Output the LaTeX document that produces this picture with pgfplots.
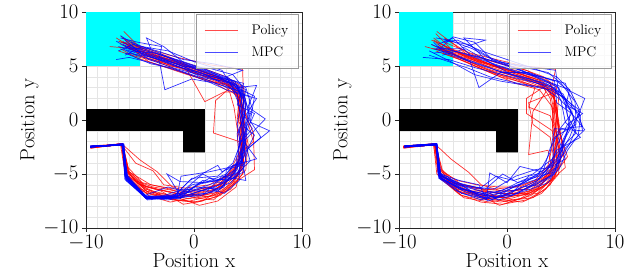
\documentclass[border=0pt]{standalone}
\usepackage{pgfplots}
\pgfplotsset{compat=1.18}
\definecolor{aqua}{RGB}{0,255,255}
\definecolor{pred}{RGB}{255,0,0}
\definecolor{pblue}{RGB}{0,0,255}
\pgfplotsset{
  myaxis/.style={
    scale only axis, width=216pt, height=216pt,
    xmin=-10, xmax=10, ymin=-10, ymax=10,
    xtick={-10,0,10}, ytick={-10,-5,0,5,10},
    minor xtick={-9,-8,-7,-6,-5,-4,-3,-2,-1,1,2,3,4,5,6,7,8,9},
    minor ytick={-9,-8,-7,-6,-4,-3,-2,-1,1,2,3,4,6,7,8,9},
    grid=both,
    major grid style={gray!30, line width=0.6pt},
    minor grid style={gray!20, line width=0.5pt},
    minor tick length=0pt, major tick length=4pt,
    tick align=outside, tick pos=left,
    axis line style={black!85, line width=0.8pt},
    tick style={black!85, line width=0.8pt},
    tick label style={font=\fontsize{19.5}{21}\selectfont},
    label style={font=\fontsize{20.5}{24}\selectfont},
    xlabel={Position x}, ylabel={Position y},
    xlabel style={yshift=4pt},
    ylabel style={yshift=-2pt},
    legend style={at={(0.985,0.99)}, anchor=north east,
      fill=white, fill opacity=0.8, text opacity=1, draw opacity=1,
      draw=gray!80, line width=0.9pt, font=\fontsize{14}{16}\selectfont,
      inner xsep=8pt, inner ysep=8pt, row sep=7pt, cells={anchor=west}},
    legend image code/.code={\path[draw=none,fill=none] (0pt,-1pt) rectangle (45pt,1pt); \draw[##1] (0pt,0pt) -- (33pt,0pt);},
  },
  pol/.style={pred, line width=0.7pt, opacity=0.8, forget plot},
  mpc/.style={pblue, line width=0.7pt, opacity=0.8, forget plot},
}
\begin{document}
\begin{tikzpicture}
\path[use as bounding box] (0,0) rectangle (639pt,277pt);
% ---------------- left ----------------
\begin{axis}[myaxis, at={(86pt,49pt)}, anchor=south west]
\addplot[fill=aqua, draw=none, forget plot] coordinates {(-10,5) (-5,5) (-5,10) (-10,10)} -- cycle;
\addplot[fill=black, draw=none, forget plot] coordinates {(-10,1) (1,1) (1,-3) (-1,-3) (-1,-1) (-10,-1)} -- cycle;
\addlegendimage{pred, line width=0.7pt, opacity=0.7}\addlegendentry{Policy}
\addlegendimage{pblue, line width=0.7pt, opacity=0.7}\addlegendentry{MPC}
\addplot[pol] coordinates {(-9.6,-2.5) (-6.7,-2.3) (-6.2,-4.8) (-4.5,-6.4) (-2.5,-6.9) (-0.5,-7.3) (1.5,-6.8) (3.2,-5.5) (4.3,-3.5) (4.6,-1.0) (4.4,1.5) (3.6,3.2) (1.8,4.2) (-0.5,5.0) (-2.8,5.8) (-4.8,6.5) (-6.6,7.6)};
\addplot[pol] coordinates {(-9.6,-2.6) (-6.6,-2.2) (-6.4,-4.6) (-5.0,-6.0) (-3.0,-6.6) (-1.0,-7.8) (0.8,-7.5) (2.6,-6.3) (4.0,-4.5) (4.5,-2.0) (4.2,0.8) (3.9,2.8) (2.5,3.9) (0.3,4.6) (-2.0,5.5) (-4.5,6.2) (-6.8,7.0)};
\addplot[pol] coordinates {(-9.5,-2.5) (-6.7,-2.2) (-5.0,-3.7) (-3.4,-4.8) (-2.0,-6.2) (0.0,-6.8) (2.0,-6.4) (3.6,-5.1) (4.4,-3.0) (5.5,-2.0) (4.8,0.4) (4.0,2.4) (2.2,4.0) (0.0,4.8) (-2.4,5.9) (-5.0,6.7) (-7.0,7.3)};
\addplot[pol] coordinates {(-9.6,-2.4) (-6.6,-2.3) (-6.0,-5.2) (-4.0,-6.9) (-1.8,-7.4) (0.3,-7.6) (2.4,-7.0) (4.2,-5.5) (5.6,-4.6) (5.5,-1.2) (4.6,1.0) (4.4,3.0) (3.0,3.6) (0.8,4.3) (-1.5,5.2) (-4.0,6.1) (-6.2,6.8)};
\addplot[pol] coordinates {(-9.6,-2.5) (-6.8,-2.3) (-6.5,-4.2) (-5.5,-5.6) (-3.8,-6.2) (-1.5,-6.6) (0.6,-6.6) (2.4,-5.9) (3.8,-4.4) (4.4,-2.5) (4.3,-0.2) (4.6,2.0) (3.2,3.5) (1.0,4.4) (-1.2,5.3) (-3.6,6.0) (-6.0,7.4)};
\addplot[pol] coordinates {(-9.5,-2.6) (-6.7,-2.2) (-6.3,-5.0) (-4.2,-7.0) (-2.2,-7.6) (-0.2,-7.2) (1.8,-7.4) (3.4,-6.0) (4.7,-4.2) (4.9,-1.8) (4.0,0.2) (4.3,2.6) (2.8,2.6) (1.0,1.7) (-0.8,4.9) (-3.0,5.6) (-5.5,6.6) (-7.8,6.8)};
\addplot[pol] coordinates {(-9.6,-2.5) (-6.6,-2.3) (-6.1,-4.4) (-4.8,-5.8) (-2.6,-6.3) (-0.6,-6.9) (1.2,-7.1) (3.0,-6.6) (4.5,-5.0) (4.2,-2.0) (1.8,-1.2) (2.0,1.8) (3.8,3.4) (1.2,4.0) (-1.0,4.8) (-3.4,5.4) (-5.8,6.2)};
\addplot[pol] coordinates {(-9.5,-2.5) (-6.7,-2.2) (-6.0,-5.0) (-4.4,-6.6) (-2.0,-7.0) (0.5,-7.9) (2.2,-7.5) (3.9,-6.2) (4.4,-4.0) (4.3,-1.4) (4.7,0.8) (4.2,2.0) (2.8,3.7) (0.4,4.5) (-2.2,5.0) (-4.3,6.0) (-6.5,8.2)};
\addplot[pol] coordinates {(-9.6,-2.5) (-6.6,-2.3) (-6.4,-4.9) (-5.2,-6.3) (-3.2,-7.0) (-1.2,-7.2) (1.0,-6.4) (2.8,-5.8) (4.2,-4.8) (4.5,-3.0) (4.0,-0.8) (3.7,1.2) (3.3,2.6) (1.6,3.6) (-0.6,4.2) (-3.0,5.0) (-5.4,5.8) (-6.8,6.6)};
\addplot[pol] coordinates {(-9.6,-2.6) (-6.7,-2.3) (-5.4,-4.0) (-3.8,-4.7) (-2.8,-6.0) (-0.8,-6.3) (1.4,-6.0) (3.2,-5.0) (4.0,-3.4) (4.8,-2.0) (4.2,0.5) (4.0,2.2) (2.6,3.3) (0.6,3.9) (-1.6,4.6) (-4.2,5.4) (-6.2,7.0)};
\addplot[pol] coordinates {(-9.6,-2.5) (-6.7,-2.3) (-6.2,-4.6) (-4.6,-6.2) (-2.4,-7.3) (-0.4,-7.5) (1.8,-7.0) (3.6,-5.8) (4.6,-3.8) (4.2,-1.0) (4.6,1.6) (4.5,4.7) (1.5,5.1) (-1.5,5.8) (-4.0,6.5) (-6.4,7.2)};
\addplot[pol] coordinates {(-9.6,-2.5) (-6.6,-2.2) (-6.2,-4.9) (-4.6,-6.1) (-2.6,-6.6) (-0.8,-7.0) (1.0,-6.9) (2.8,-6.0) (4.1,-4.2) (4.5,-1.6) (4.4,1.0) (4.1,2.8) (2.8,3.4) (0.6,4.2) (-1.8,5.1) (-4.2,5.9) (-6.4,6.8)};
\addplot[pol] coordinates {(-9.6,-2.5) (-6.7,-2.3) (-6.3,-5.1) (-4.8,-6.6) (-2.8,-7.2) (-0.6,-7.0) (1.4,-6.6) (3.2,-5.8) (4.4,-4.6) (4.8,-2.4) (4.5,0.2) (4.3,2.2) (3.0,3.2) (0.9,4.0) (-1.4,4.9) (-3.8,5.7) (-6.0,6.6)};
\addplot[pol] coordinates {(-9.5,-2.4) (-6.7,-2.2) (-6.1,-4.7) (-4.4,-6.2) (-2.2,-6.7) (0.2,-7.2) (2.0,-7.0) (3.6,-6.0) (4.6,-4.0) (4.4,-1.8) (4.2,0.8) (4.4,2.4) (3.4,3.6) (1.4,4.3) (-0.8,5.0) (-3.2,5.8) (-5.6,6.6) (-7.2,7.6)};
\addplot[pol] coordinates {(-9.6,-2.6) (-6.6,-2.2) (-6.3,-4.6) (-5.2,-5.9) (-3.4,-6.4) (-1.4,-6.8) (0.8,-7.0) (2.6,-6.6) (4.0,-5.2) (4.7,-3.2) (4.6,-0.6) (4.4,1.6) (3.6,3.0) (1.8,3.9) (-0.4,4.7) (-2.6,5.6) (-5.0,6.2) (-6.8,7.8)};
\addplot[pol] coordinates {(-9.6,-2.5) (-6.7,-2.3) (-6.4,-5.0) (-4.2,-6.5) (-2.0,-7.4) (0.0,-7.6) (1.8,-7.2) (3.4,-6.4) (4.8,-4.6) (5.0,-2.2) (4.6,0.0) (4.2,1.8) (3.2,3.3) (1.2,3.6) (-1.0,4.4) (-3.4,5.4) (-5.8,6.0) (-7.0,6.4)};
\addplot[pol] coordinates {(-9.6,-2.5) (-6.6,-2.3) (-6.0,-4.8) (-4.0,-6.0) (-1.8,-6.4) (0.4,-6.4) (2.2,-6.0) (3.6,-4.8) (4.4,-3.2) (4.6,-1.2) (4.8,1.2) (4.6,3.0) (3.0,4.0) (0.8,4.8) (-1.8,5.6) (-4.4,6.4) (-6.8,7.2)};
\addplot[pol] coordinates {(-9.5,-2.5) (-6.7,-2.2) (-6.2,-5.3) (-4.4,-6.8) (-2.4,-7.0) (-0.4,-6.6) (1.6,-6.2) (3.0,-5.2) (4.2,-3.8) (4.0,-1.4) (4.2,1.2) (4.0,3.2) (2.0,3.8) (-0.2,4.4) (-2.6,5.2) (-5.0,6.0) (-6.6,7.3)};
\addplot[mpc] coordinates {(-9.6,-2.5) (-6.6,-2.3) (-6.4,-5.2) (-4.4,-7.3) (-1.4,-7.2) (0.5,-6.6) (2.4,-6.0) (4.0,-5.2) (4.6,-3.0) (4.5,-0.8) (4.8,1.5) (4.2,3.0) (2.4,3.8) (0.2,4.5) (-2.2,5.4) (-4.6,6.2) (-6.6,7.0)};
\addplot[mpc] coordinates {(-9.6,-2.4) (-6.5,-2.3) (-6.2,-5.5) (-4.3,-7.4) (-1.2,-7.1) (-2.5,-5.0) (-1.3,-5.7) (1.0,-5.8) (3.0,-5.0) (4.3,-3.6) (4.8,-1.2) (5.0,0.8) (4.6,2.6) (3.4,3.4) (1.0,4.0) (-1.5,5.2) (-4.0,5.8) (-6.3,6.5)};
\addplot[mpc] coordinates {(-9.6,-2.5) (-6.6,-2.2) (-6.3,-5.6) (-4.4,-7.2) (-1.3,-7.3) (0.2,-6.0) (2.6,-5.5) (3.6,-4.2) (5.8,-3.6) (4.6,-2.0) (6.6,0.1) (5.0,1.2) (5.8,3.2) (4.0,3.0) (2.0,4.2) (-0.4,5.0) (-3.0,6.0) (-5.2,6.8) (-6.8,7.8)};
\addplot[mpc] coordinates {(-9.6,-2.5) (-6.6,-2.3) (-6.1,-5.4) (-4.4,-7.1) (-2.8,-7.0) (-1.0,-6.4) (1.6,-6.6) (3.4,-5.8) (4.6,-4.4) (5.0,-2.6) (7.0,-1.0) (5.2,-0.2) (5.6,2.2) (4.4,2.8) (3.2,3.9) (0.8,4.8) (-1.6,5.6) (-4.0,6.3) (-6.0,6.8)};
\addplot[mpc] coordinates {(-9.6,-2.5) (-6.7,-2.3) (-6.2,-5.3) (-4.5,-7.0) (-2.0,-7.2) (-0.2,-5.4) (2.2,-5.2) (3.6,-4.0) (4.3,-2.2) (4.0,-0.4) (4.4,2.0) (3.8,3.6) (1.6,4.4) (-0.8,5.2) (-2.8,6.8) (-4.4,7.6) (-4.0,6.6) (-6.0,6.6) (-7.2,7.3)};
\addplot[mpc] coordinates {(-9.6,-2.5) (-6.6,-2.3) (-6.3,-5.0) (-4.4,-7.2) (-1.6,-7.0) (1.2,-6.2) (2.8,-6.8) (4.2,-5.6) (4.2,-3.4) (4.0,-1.2) (4.7,0.4) (4.5,2.6) (2.0,3.4) (-0.2,3.8) (-2.7,2.8) (-3.2,5.4) (-5.4,6.0) (-6.6,6.6)};
\addplot[mpc] coordinates {(-9.6,-2.5) (-6.6,-2.2) (-6.3,-5.4) (-4.2,-7.3) (-1.3,-6.8) (0.8,-5.0) (2.0,-5.6) (4.2,-4.8) (5.2,-3.8) (4.6,-1.6) (5.6,0.6) (4.0,1.4) (4.6,3.4) (2.8,3.8) (0.4,4.2) (-1.8,4.8) (-4.2,5.6) (-6.4,7.4)};
\addplot[mpc] coordinates {(-9.6,-2.4) (-6.6,-2.3) (-6.4,-5.2) (-4.6,-7.0) (-2.4,-6.2) (-0.2,-6.8) (2.0,-6.2) (3.8,-5.0) (4.0,-3.0) (4.8,-0.8) (4.2,1.0) (4.0,2.4) (3.0,4.0) (4.5,4.6) (1.8,5.2) (-1.0,5.6) (-3.4,6.4) (-5.6,7.0) (-7.0,6.4)};
\addplot[mpc] coordinates {(-9.6,-2.5) (-6.5,-2.3) (-6.2,-5.4) (-4.4,-7.3) (-1.5,-7.2) (0.6,-7.0) (2.8,-6.2) (3.0,-4.6) (4.4,-4.2) (4.6,-2.4) (4.5,0.0) (5.8,2.0) (4.2,2.4) (3.0,2.8) (1.2,3.6) (-1.0,4.4) (-3.6,5.2) (-6.0,5.8) (-7.2,5.6)};
\addplot[mpc] coordinates {(-9.6,-2.5) (-6.6,-2.3) (-6.3,-5.5) (-4.4,-7.2) (-2.2,-7.3) (-0.6,-6.6) (1.4,-5.4) (3.2,-5.6) (4.6,-4.8) (4.4,-2.8) (4.2,-1.0) (4.8,1.0) (4.4,3.2) (3.6,4.2) (1.4,4.8) (-1.2,5.0) (-3.2,5.8) (-3.0,6.8) (-5.2,7.2) (-6.8,7.6)};
\addplot[mpc] coordinates {(-9.6,-2.5) (-6.6,-2.2) (-6.3,-5.0) (-4.4,-7.1) (-1.8,-7.0) (-0.4,-5.6) (2.2,-4.2) (2.6,-4.8) (4.4,-3.8) (5.6,-1.4) (4.6,-0.6) (4.2,1.4) (3.6,2.8) (1.0,3.8) (-1.0,4.8) (-3.8,5.8) (-6.2,6.2)};
\addplot[mpc] coordinates {(-9.6,-2.5) (-6.6,-2.3) (-6.2,-5.2) (-4.4,-7.3) (-1.2,-7.0) (1.0,-6.8) (2.6,-5.2) (4.8,-5.6) (4.4,-3.2) (6.2,-1.6) (5.0,0.2) (5.2,2.2) (3.8,2.6) (2.6,4.6) (0.0,5.4) (-2.4,6.4) (-4.8,6.8) (-6.4,6.0)};
\addplot[mpc] coordinates {(-9.6,-2.5) (-6.6,-2.3) (-6.3,-5.4) (-4.4,-7.2) (-1.6,-7.1) (0.2,-6.4) (2.0,-5.8) (3.8,-4.6) (4.5,-2.6) (4.4,-0.4) (4.6,1.8) (4.0,3.2) (2.2,4.0) (0.0,4.8) (-2.4,5.6) (-4.8,6.4) (-6.6,7.2)};
\addplot[mpc] coordinates {(-9.6,-2.5) (-6.5,-2.2) (-6.2,-5.3) (-4.3,-7.2) (-1.4,-7.0) (-0.2,-6.0) (1.8,-5.6) (3.6,-5.4) (4.8,-3.8) (4.6,-1.6) (5.2,0.4) (4.6,2.4) (3.0,3.2) (0.6,4.4) (-1.8,5.0) (-4.4,6.0) (-6.4,6.8)};
\addplot[mpc] coordinates {(-9.6,-2.4) (-6.6,-2.3) (-6.4,-5.5) (-4.4,-7.3) (-2.0,-7.1) (0.0,-6.2) (2.4,-6.4) (4.0,-4.6) (4.2,-2.2) (5.4,-0.8) (4.4,0.8) (4.8,2.8) (3.4,3.6) (1.2,4.6) (-1.2,5.4) (-3.6,6.2) (-6.0,6.4)};
\addplot[mpc] coordinates {(-9.6,-2.5) (-6.6,-2.2) (-6.2,-5.4) (-4.4,-7.1) (-1.3,-7.2) (0.8,-5.6) (2.6,-5.8) (4.2,-4.2) (4.8,-2.0) (4.3,0.0) (4.4,2.2) (3.6,3.4) (1.8,4.0) (-0.6,4.6) (-3.0,5.6) (-5.4,6.4) (-7.0,6.8)};
\addplot[mpc] coordinates {(-9.6,-2.5) (-6.5,-2.3) (-6.3,-5.2) (-4.5,-7.2) (-2.4,-7.4) (-0.2,-7.0) (2.2,-6.6) (3.6,-5.0) (4.6,-3.4) (4.9,-1.0) (4.5,1.2) (4.2,2.8) (2.6,3.6) (0.4,4.0) (-2.0,4.8) (-4.0,5.2) (-6.4,6.2)};
\addplot[mpc] coordinates {(-9.6,-2.4) (-6.6,-2.3) (-6.3,-5.5) (-4.4,-7.3) (-1.6,-7.2) (-1.2,-5.2) (1.4,-4.8) (3.2,-4.4) (4.4,-4.0) (4.2,-1.8) (5.4,1.0) (4.8,3.0) (3.8,3.6) (1.6,4.2) (-0.8,5.0) (-3.2,6.2) (-5.8,7.2)};
\end{axis}
% ---------------- right ----------------
\begin{axis}[myaxis, at={(399pt,49pt)}, anchor=south west]
\addplot[fill=aqua, draw=none, forget plot] coordinates {(-10,5) (-5,5) (-5,10) (-10,10)} -- cycle;
\addplot[fill=black, draw=none, forget plot] coordinates {(-10,1) (1,1) (1,-3) (-1,-3) (-1,-1) (-10,-1)} -- cycle;
\addlegendimage{pred, line width=0.7pt, opacity=0.7}\addlegendentry{Policy}
\addlegendimage{pblue, line width=0.7pt, opacity=0.7}\addlegendentry{MPC}
\addplot[pol] coordinates {(-9.6,-2.5) (-6.8,-2.3) (-6.4,-4.8) (-4.8,-6.2) (-2.8,-6.8) (-0.7,-7.9) (1.2,-7.3) (3.0,-6.2) (4.2,-4.4) (4.6,-2.0) (4.4,0.6) (4.0,2.6) (2.6,3.6) (0.4,4.4) (-2.0,5.2) (-4.6,6.0) (-7.6,6.8)};
\addplot[pol] coordinates {(-9.6,-2.6) (-6.7,-2.2) (-5.2,-3.6) (-3.6,-4.8) (-2.4,-6.0) (-0.4,-6.6) (1.6,-6.4) (3.4,-5.4) (4.4,-3.4) (4.2,-1.0) (1.8,0.6) (1.8,2.0) (3.6,3.2) (1.4,4.2) (-1.2,5.0) (-3.6,6.0) (-6.5,8.2)};
\addplot[pol] coordinates {(-9.5,-2.5) (-6.7,-2.3) (-6.2,-5.2) (-4.4,-6.6) (-2.0,-7.2) (0.2,-7.6) (2.2,-7.0) (4.0,-5.6) (5.6,-3.4) (4.8,-1.0) (4.4,1.4) (4.2,3.0) (2.2,3.8) (-0.2,4.6) (-2.6,5.6) (-5.0,6.4) (-6.8,7.4)};
\addplot[pol] coordinates {(-9.6,-2.5) (-6.6,-2.3) (-6.0,-4.6) (-5.0,-5.8) (-3.0,-6.2) (-1.0,-6.8) (1.0,-6.8) (2.8,-6.4) (4.0,-5.0) (4.6,-3.0) (4.8,-0.6) (4.5,1.8) (3.2,3.4) (1.0,4.0) (-1.4,4.6) (-4.0,5.6) (-6.2,6.6)};
\addplot[pol] coordinates {(-9.6,-2.4) (-6.8,-2.2) (-6.5,-5.0) (-4.2,-7.0) (-2.2,-7.4) (-0.2,-7.0) (2.0,-6.0) (3.6,-5.2) (4.4,-4.0) (4.0,-1.6) (2.4,-0.4) (2.0,1.6) (4.0,2.4) (4.5,4.7) (1.6,5.0) (-1.0,5.6) (-3.4,6.2) (-5.8,7.2)};
\addplot[pol] coordinates {(-9.6,-2.5) (-6.7,-2.3) (-6.1,-5.4) (-4.0,-7.2) (-1.6,-7.6) (0.6,-7.2) (2.6,-6.6) (4.4,-5.4) (5.0,-3.2) (4.4,-0.4) (4.0,2.0) (3.4,3.0) (1.8,3.6) (-0.8,4.2) (-3.0,5.2) (-5.4,6.2) (-7.0,7.0)};
\addplot[pol] coordinates {(-9.6,-2.5) (-6.6,-2.2) (-6.3,-4.4) (-5.4,-5.6) (-3.4,-6.6) (-1.2,-6.4) (0.8,-6.2) (2.6,-5.6) (3.8,-4.2) (4.2,-2.4) (4.6,0.0) (4.8,2.2) (3.8,3.6) (1.8,4.6) (-0.6,5.2) (-2.8,5.8) (-5.2,6.6) (-6.6,8.0)};
\addplot[pol] coordinates {(-9.5,-2.6) (-6.7,-2.3) (-6.2,-5.0) (-4.6,-6.4) (-2.6,-7.0) (-0.4,-7.4) (1.4,-7.6) (3.2,-6.8) (4.8,-5.0) (4.8,-2.6) (4.2,-0.6) (4.2,1.2) (3.0,2.8) (0.8,3.4) (-1.6,4.4) (-3.8,5.4) (-6.0,6.2)};
\addplot[pol] coordinates {(-9.6,-2.5) (-6.6,-2.3) (-6.3,-5.2) (-4.2,-6.8) (-2.0,-6.6) (0.0,-6.8) (2.0,-6.8) (3.6,-6.0) (5.4,-4.4) (5.0,-1.8) (4.5,0.8) (4.3,2.8) (2.4,3.2) (0.2,4.0) (-2.2,4.8) (-4.4,5.8) (-6.4,7.0)};
\addplot[pol] coordinates {(-9.6,-2.5) (-6.7,-2.2) (-6.0,-5.6) (-4.4,-6.0) (-2.4,-6.4) (-0.8,-7.2) (1.2,-6.6) (3.0,-5.8) (4.2,-4.6) (3.8,-2.8) (2.0,-3.2) (2.4,0.8) (3.6,2.6) (3.0,3.8) (0.8,4.6) (-1.8,5.2) (-4.2,6.0) (-6.6,6.6)};
\addplot[pol] coordinates {(-9.6,-2.5) (-6.6,-2.3) (-6.2,-4.9) (-4.6,-6.2) (-2.4,-6.8) (-0.4,-7.2) (1.6,-6.9) (3.2,-6.0) (4.4,-4.6) (4.9,-2.2) (4.6,0.4) (4.3,2.4) (2.8,3.4) (0.6,4.2) (-1.8,5.0) (-4.2,5.8) (-6.4,6.8)};
\addplot[pol] coordinates {(-9.6,-2.4) (-6.7,-2.2) (-6.3,-5.1) (-4.8,-6.5) (-2.6,-7.2) (-0.6,-7.6) (1.6,-7.2) (3.4,-6.2) (4.6,-4.4) (4.6,-1.8) (4.4,0.8) (4.4,2.6) (3.2,3.6) (1.0,4.4) (-1.4,5.0) (-3.8,5.8) (-6.0,7.0)};
\addplot[pol] coordinates {(-9.5,-2.5) (-6.7,-2.3) (-6.1,-4.6) (-4.2,-6.0) (-2.2,-6.4) (0.2,-6.6) (2.2,-6.4) (3.8,-5.2) (4.6,-3.6) (4.4,-1.2) (4.2,1.0) (4.6,3.0) (3.4,4.0) (1.2,4.8) (-1.2,5.4) (-3.6,6.2) (-5.8,7.6)};
\addplot[pol] coordinates {(-9.6,-2.6) (-6.6,-2.2) (-6.4,-4.8) (-5.0,-6.0) (-3.2,-6.8) (-1.4,-7.0) (0.6,-7.4) (2.4,-7.2) (4.0,-6.0) (5.0,-4.0) (4.6,-1.4) (4.0,0.4) (2.0,1.2) (2.6,3.0) (0.4,3.8) (-2.0,4.6) (-4.4,5.6) (-6.6,6.4)};
\addplot[pol] coordinates {(-9.6,-2.5) (-6.7,-2.3) (-6.2,-5.4) (-4.4,-6.9) (-2.4,-7.6) (-0.4,-7.8) (1.8,-7.4) (3.6,-6.4) (4.6,-4.8) (5.2,-2.8) (4.8,-0.2) (4.4,2.0) (3.6,3.2) (1.4,3.8) (-1.0,4.6) (-3.2,5.6) (-5.6,6.8) (-7.0,7.4)};
\addplot[pol] coordinates {(-9.6,-2.5) (-6.6,-2.3) (-6.0,-4.8) (-4.6,-5.6) (-2.8,-6.0) (-0.8,-6.2) (1.2,-6.2) (3.0,-5.4) (4.2,-3.8) (4.6,-1.6) (4.6,1.0) (4.2,2.6) (2.6,3.8) (0.2,4.6) (-2.4,5.4) (-4.8,6.4) (-7.0,6.6)};
\addplot[pol] coordinates {(-9.5,-2.5) (-6.7,-2.2) (-6.3,-5.0) (-4.4,-6.4) (-2.2,-7.0) (0.0,-7.2) (2.0,-6.6) (3.6,-5.6) (4.6,-4.0) (5.4,-3.0) (4.8,-0.8) (4.6,1.6) (3.8,2.8) (1.8,3.4) (-0.6,4.0) (-3.0,5.0) (-5.2,6.0) (-6.6,7.2)};
\addplot[pol] coordinates {(-9.6,-2.5) (-6.6,-2.3) (-6.2,-4.7) (-4.8,-5.8) (-3.0,-6.4) (-1.0,-7.0) (0.8,-7.0) (2.8,-6.8) (4.2,-5.4) (4.4,-3.0) (4.2,-0.4) (4.4,1.8) (4.0,3.4) (2.0,4.0) (-0.4,4.8) (-2.8,5.6) (-5.2,6.4) (-6.8,7.6)};
\addplot[mpc] coordinates {(-9.5,-2.4) (-6.5,-2.2) (-6.2,-4.9) (-4.2,-6.0) (-2.5,-7.1) (-0.8,-6.8) (1.2,-6.0) (3.0,-5.4) (4.6,-4.4) (5.4,-2.6) (7.2,-0.9) (6.0,0.6) (5.2,2.4) (3.6,3.4) (1.4,4.0) (-1.0,4.6) (-3.4,5.4) (-5.6,6.4) (-7.0,7.0)};
\addplot[mpc] coordinates {(-9.5,-2.5) (-6.5,-2.3) (-6.2,-5.2) (-4.0,-6.2) (-1.9,-7.4) (-1.6,-4.9) (0.0,-5.8) (1.2,-4.3) (3.2,-4.8) (4.6,-3.6) (5.8,-1.6) (7.2,2.0) (5.6,2.8) (4.6,3.6) (2.4,4.2) (0.0,5.0) (-2.4,5.8) (-5.0,6.4) (-6.8,6.2)};
\addplot[mpc] coordinates {(-9.5,-2.4) (-6.5,-2.2) (-6.3,-5.4) (-4.6,-6.2) (-2.8,-6.8) (-1.0,-7.2) (1.0,-6.4) (2.8,-5.6) (4.2,-4.0) (4.4,-1.6) (6.4,-0.4) (6.3,1.7) (5.0,3.4) (3.8,4.4) (1.0,5.0) (-1.4,5.6) (-3.0,7.2) (-5.0,7.7) (-6.0,6.8)};
\addplot[mpc] coordinates {(-9.5,-2.5) (-6.5,-2.3) (-6.2,-5.0) (-4.4,-5.6) (-2.6,-6.0) (-1.8,-7.5) (0.4,-6.8) (2.0,-5.2) (3.6,-4.8) (4.6,-2.8) (6.8,-1.6) (5.4,-0.2) (5.0,1.8) (4.4,3.0) (2.0,3.6) (-0.4,4.2) (-2.8,4.8) (-5.4,5.6) (-7.8,5.8)};
\addplot[mpc] coordinates {(-9.5,-2.4) (-6.6,-2.2) (-6.3,-5.3) (-4.0,-6.4) (-2.2,-7.0) (-0.2,-6.4) (1.6,-5.8) (3.4,-4.6) (4.0,-2.6) (5.0,-0.8) (7.0,-0.6) (6.2,1.2) (4.8,2.6) (2.8,3.4) (0.4,4.2) (-2.0,5.6) (-4.0,7.6) (-2.0,7.4) (-4.4,6.6) (-6.6,6.6)};
\addplot[mpc] coordinates {(-9.5,-2.5) (-6.5,-2.3) (-6.4,-5.0) (-4.6,-5.8) (-3.0,-6.2) (-1.2,-6.4) (0.8,-5.2) (2.6,-4.6) (4.0,-4.4) (5.4,-3.6) (4.6,-1.2) (6.0,0.6) (4.6,1.6) (4.4,3.6) (2.0,4.4) (-0.6,4.4) (-2.6,3.0) (-3.4,5.4) (-5.8,6.2) (-6.8,7.2)};
\addplot[mpc] coordinates {(-9.5,-2.4) (-6.5,-2.2) (-6.1,-5.4) (-4.2,-6.8) (-2.0,-7.3) (0.2,-7.0) (2.2,-6.4) (3.8,-5.8) (4.8,-4.2) (5.2,-2.0) (6.8,0.8) (5.8,2.8) (4.6,4.0) (2.4,4.8) (0.0,5.6) (-2.4,6.4) (-4.6,7.4) (-6.0,7.2)};
\addplot[mpc] coordinates {(-9.5,-2.5) (-6.5,-2.3) (-6.2,-5.1) (-4.4,-6.0) (-2.6,-6.4) (-1.0,-5.2) (0.6,-5.6) (2.4,-5.0) (4.2,-3.6) (5.0,-2.6) (6.4,-1.2) (5.6,0.4) (5.4,2.0) (4.0,2.8) (1.8,3.2) (-0.6,3.6) (-3.0,4.2) (-5.2,5.4) (-7.2,6.4)};
\addplot[mpc] coordinates {(-9.5,-2.4) (-6.6,-2.3) (-6.3,-5.2) (-4.4,-6.4) (-2.2,-6.8) (-1.4,-7.4) (0.6,-6.2) (2.8,-5.2) (4.0,-3.0) (4.4,-0.8) (7.0,-1.0) (6.6,1.0) (4.8,2.4) (4.5,4.6) (1.6,5.0) (-1.0,5.4) (-3.4,6.0) (-5.0,7.6) (-6.4,7.0)};
\addplot[mpc] coordinates {(-9.5,-2.5) (-6.5,-2.2) (-6.2,-5.4) (-4.0,-6.6) (-2.4,-7.2) (-0.4,-7.0) (1.4,-6.2) (3.0,-6.0) (4.4,-5.0) (4.8,-3.2) (5.6,-1.0) (6.0,1.6) (5.4,3.4) (3.2,4.0) (1.0,4.4) (-1.4,5.2) (-3.8,6.6) (-6.0,6.0)};
\addplot[mpc] coordinates {(-9.5,-2.5) (-6.5,-2.3) (-6.2,-5.3) (-4.2,-6.4) (-2.2,-6.8) (-0.6,-6.6) (1.4,-5.6) (3.2,-5.0) (4.6,-3.8) (5.2,-1.8) (6.2,0.2) (5.4,1.8) (4.6,3.2) (2.8,4.0) (0.6,4.6) (-1.8,5.4) (-4.2,6.2) (-6.4,6.8)};
\addplot[mpc] coordinates {(-9.5,-2.4) (-6.5,-2.2) (-6.3,-5.4) (-4.6,-6.6) (-2.4,-7.4) (-0.2,-6.6) (1.8,-6.4) (3.4,-5.6) (4.8,-4.6) (5.6,-2.8) (6.6,-1.4) (6.8,0.4) (5.2,2.0) (4.0,3.2) (2.0,3.8) (-0.4,4.4) (-2.6,5.2) (-4.8,6.0) (-6.8,6.6)};
\addplot[mpc] coordinates {(-9.5,-2.5) (-6.5,-2.3) (-6.1,-5.2) (-4.0,-6.0) (-2.0,-6.4) (-0.4,-5.0) (1.0,-5.8) (3.0,-5.2) (4.4,-4.8) (5.0,-3.0) (5.8,-0.4) (5.4,1.2) (5.8,2.8) (3.6,3.6) (1.4,4.6) (-1.0,5.4) (-3.2,6.6) (-5.4,7.4) (-6.6,7.6)};
\addplot[mpc] coordinates {(-9.5,-2.4) (-6.6,-2.2) (-6.2,-5.0) (-4.4,-6.2) (-2.8,-7.0) (-1.6,-6.6) (0.4,-7.0) (2.4,-6.0) (4.0,-5.2) (4.8,-3.8) (5.8,-2.2) (6.4,-0.8) (6.0,0.8) (4.8,2.0) (3.4,3.0) (1.0,3.4) (-1.6,4.0) (-3.6,4.8) (-6.0,5.6) (-7.2,6.0)};
\addplot[mpc] coordinates {(-9.5,-2.5) (-6.5,-2.3) (-6.3,-5.1) (-4.6,-6.0) (-2.4,-6.6) (-0.8,-7.4) (1.0,-6.8) (2.6,-5.8) (4.2,-4.4) (4.6,-2.4) (5.6,-0.4) (7.0,0.6) (5.4,1.4) (4.8,3.0) (3.0,3.8) (0.8,4.8) (-1.6,5.8) (-3.6,7.0) (-5.8,7.4)};
\end{axis}
\end{tikzpicture}
\end{document}
